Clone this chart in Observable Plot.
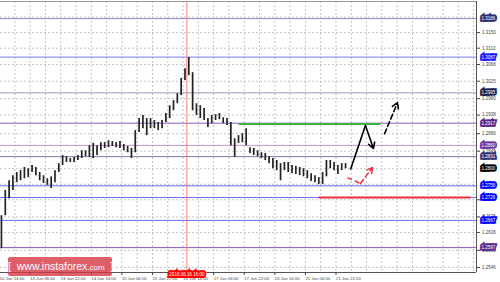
<!DOCTYPE html>
<html><head><meta charset="utf-8">
<script src="https://cdn.jsdelivr.net/npm/d3@7"></script>
<script src="https://cdn.jsdelivr.net/npm/@observablehq/plot@0.6"></script>
<style>
html,body{margin:0;padding:0;background:#fff;}
#wrap{position:relative;width:500px;height:282px;overflow:hidden;}
#chart{position:absolute;left:0;top:0;}
#wm{position:absolute;left:8px;top:257px;width:104px;height:19px;background:rgba(214,58,68,0.8);border-radius:2px;color:#fff;font-family:"Liberation Sans",Arial,sans-serif;font-size:10.5px;line-height:19px;white-space:nowrap;text-align:center;z-index:2}
#wm small{font-size:8px}
</style></head><body>
<div id="wrap"><div id="chart"></div><div id="wm">[&nbsp; www.instaforex<small>.com</small> &nbsp;]</div></div>
<script>
// 2-hour bars (hour index from 10 Jun 15:00), highs and lows
const barHours = d3.range(0, 182, 2);
const highs = [1.2679,1.2744,1.2769,1.2782,1.2790,1.2795,1.2803,1.2800,1.2808,1.2803,
 1.2790,1.2782,1.2774,1.2779,1.2795,1.2813,1.2834,1.2831,1.2826,1.2829,
 1.2834,1.2846,1.2846,1.2859,1.2865,1.2859,1.2867,1.2867,1.2872,1.2870,
 1.2867,1.2870,1.2862,1.2857,1.2852,1.2898,1.2929,1.2937,1.2929,1.2929,
 1.2924,1.2919,1.2924,1.2942,1.2962,1.2975,1.2993,1.3032,1.3057,1.3086,
 1.3047,1.2967,1.2962,1.2955,1.2929,1.2937,1.2939,1.2942,1.2931,1.2929,
 1.2919,1.2877,1.2885,1.2890,1.2903,1.2854,1.2852,1.2846,1.2841,1.2839,
 1.2831,1.2826,1.2821,1.2813,1.2816,1.2816,1.2808,1.2806,1.2803,1.2800,
 1.2795,1.2787,1.2782,1.2777,1.2790,1.2821,1.2821,1.2816,1.2808,1.2813,
 1.2813];
const lows = [1.2594,1.2679,1.2723,1.2744,1.2764,1.2769,1.2774,1.2777,1.2790,1.2782,
 1.2769,1.2762,1.2757,1.2749,1.2764,1.2790,1.2808,1.2816,1.2816,1.2816,
 1.2821,1.2826,1.2831,1.2829,1.2826,1.2834,1.2846,1.2852,1.2854,1.2857,
 1.2854,1.2852,1.2846,1.2841,1.2826,1.2841,1.2893,1.2903,1.2885,1.2903,
 1.2903,1.2898,1.2903,1.2919,1.2929,1.2949,1.2967,1.2988,1.3027,1.3039,
 1.2949,1.2937,1.2929,1.2924,1.2906,1.2916,1.2924,1.2926,1.2916,1.2911,
 1.2859,1.2829,1.2865,1.2867,1.2859,1.2839,1.2834,1.2831,1.2826,1.2821,
 1.2813,1.2800,1.2795,1.2769,1.2795,1.2790,1.2787,1.2785,1.2782,1.2779,
 1.2774,1.2767,1.2764,1.2759,1.2759,1.2779,1.2800,1.2795,1.2785,1.2795,
 1.2800];

// price scale ticks (gridlines) and the ones labelled on the axis
const priceTicks = [1.3190,1.3150,1.3110,1.3068,1.3025,1.2980,1.2938,1.2890,1.2845,1.2800,1.2760,1.2720,1.2676,1.2636,1.2590,1.2546];
const priceTickLabels = [1.3150,1.3110,1.3068,1.3025,1.2980,1.2938,1.2890,1.2845,1.2720,1.2676,1.2636,1.2590,1.2546];
// time scale ticks
const timeTickHours = [-1,15,31,47,63,79,95,111,127,143,159,175];
const timeTickLabels = ["10 Jun 14:00","13 Jun 06:00","13 Jun 22:00","14 Jun 14:00","15 Jun 06:00","15 Jun 22:00","16 Jun 14:00","17 Jun 06:00","17 Jun 22:00","20 Jun 14:00","21 Jun 06:00","21 Jun 22:00"];
const gridHours = d3.range(-1, 249, 8);

// horizontal levels
const levelValues = [1.3186,1.3087,1.2995,1.2917,1.2860,1.2831,1.2756,1.2726,1.2667,1.2597];
const levelLineColors = ["#8a8ac0","#7a7aff","#9a9ab4","#8a5cc0","#c497d0","#7c7cb0","#6a6aff","#6a6aff","#6a6aff","#8a55c0"];
const levelBoxColors = ["#2e2e70","#1515ff","#20204e","#5a2a90","#6a35a0","#33337a","#0000ff","#0000ff","#0000ff","#5a2a90"];
const currentPrice = 1.2800;

// markers
const markerHour = 97;
const markerLabel = "2016.06.16 16:00";
const greenLine = {h1: 124, h2: 198.3, p: 1.2915};
const redLine = {h1: 165.9, h2: 245.4, p: 1.2726};
const blackSolid = [{h: 182.6, p: 1.2798}, {h: 190.4, p: 1.2911}, {h: 194.6, p: 1.2852}];
const blackDashed = [{h: 200.4, p: 1.2890}, {h: 207.2, p: 1.2970}];
const redDashed = [{h: 181.0, p: 1.2777}, {h: 187.8, p: 1.2762}, {h: 194.1, p: 1.2803}];

const xDomain = [-0.5, 248.5];
const yDomain = [1.2533, 1.3230];

const bars = barHours.map((h, k) => ({h, high: highs[k], low: lows[k]}));
const levels = levelValues.map((v, i) => ({v, line: levelLineColors[i], box: levelBoxColors[i], label: v.toFixed(4)}));
const labelLevels = [...levels, {v: currentPrice, box: "#000000", label: currentPrice.toFixed(4)}];
const seg = (a, b) => ({x1: a.h, y1: a.p, x2: b.h, y2: b.p});
const tickLabel = new Map(timeTickHours.map((h, i) => [h, timeTickLabels[i]]));

const font = "Liberation Sans, Arial, sans-serif";

const chart = Plot.plot({
  width: 500, height: 282,
  marginLeft: 0, marginRight: 24, marginTop: 1, marginBottom: 10,
  style: {fontFamily: font, background: "#fff"},
  x: {domain: xDomain},
  y: {domain: yDomain},
  color: {type: "identity"},
  marks: [
    Plot.ruleY(priceTicks, {stroke: "#c4c4c4", strokeDasharray: "2,2"}),
    Plot.ruleX(gridHours, {stroke: "#c4c4c4", strokeDasharray: "2,2"}),
    Plot.ruleY(levels, {y: "v", stroke: "line", strokeWidth: 1}),
    Plot.ruleX([markerHour], {stroke: "#ff7878", strokeWidth: 1}),
    Plot.ruleX(bars, {x: "h", y1: "low", y2: "high", stroke: "#222", strokeWidth: 1.7}),
    Plot.link([greenLine], {x1: "h1", x2: "h2", y1: "p", y2: "p", stroke: "#3cb446", strokeWidth: 2}),
    Plot.link([redLine], {x1: "h1", x2: "h2", y1: "p", y2: "p", stroke: "#f0303a", strokeWidth: 2}),
    Plot.link([seg(blackSolid[0], blackSolid[1])], {x1: "x1", y1: "y1", x2: "x2", y2: "y2", stroke: "#000", strokeWidth: 1.6}),
    Plot.arrow([seg(blackSolid[1], blackSolid[2])], {x1: "x1", y1: "y1", x2: "x2", y2: "y2", stroke: "#000", strokeWidth: 1.6, headLength: 6}),
    Plot.arrow([seg(blackDashed[0], blackDashed[1])], {x1: "x1", y1: "y1", x2: "x2", y2: "y2", stroke: "#000", strokeWidth: 1.6, headLength: 6, strokeDasharray: "5,3"}),
    Plot.link([seg(redDashed[0], redDashed[1])], {x1: "x1", y1: "y1", x2: "x2", y2: "y2", stroke: "#f0303a", strokeWidth: 1.5, strokeDasharray: "5,3"}),
    Plot.arrow([seg(redDashed[1], redDashed[2])], {x1: "x1", y1: "y1", x2: "x2", y2: "y2", stroke: "#f0303a", strokeWidth: 1.5, headLength: 6, strokeDasharray: "5,3"}),
    Plot.ruleY([yDomain[0]], {stroke: "#555"}),
    Plot.ruleY([yDomain[1]], {stroke: "#999"}),
    Plot.ruleX([xDomain[1]], {stroke: "#555"}),
    Plot.axisY({anchor: "right", ticks: priceTickLabels, tickFormat: d => d.toFixed(4), fontSize: 4.5, tickSize: 3, tickPadding: 2.5, color: "#444", label: null}),
    Plot.axisX({anchor: "bottom", ticks: timeTickHours, tickFormat: d => tickLabel.get(d), textAnchor: "start", fontSize: 4.3, tickSize: 3, tickPadding: 1, color: "#444", label: null}),
    Plot.text(labelLevels, {y: "v", text: "label", frameAnchor: "right", dx: 5, textAnchor: "start", fill: "white", stroke: "box", strokeWidth: 3.6, strokeLinejoin: "miter", fontSize: 4.5}),
    Plot.text([markerHour], {x: d => d, text: [markerLabel], frameAnchor: "bottom", dy: 3.6, fill: "white", stroke: "#ff0000", strokeWidth: 4, strokeLinejoin: "miter", fontSize: 4.5})
  ]
});
document.getElementById("chart").appendChild(chart);
</script>
</body></html>
